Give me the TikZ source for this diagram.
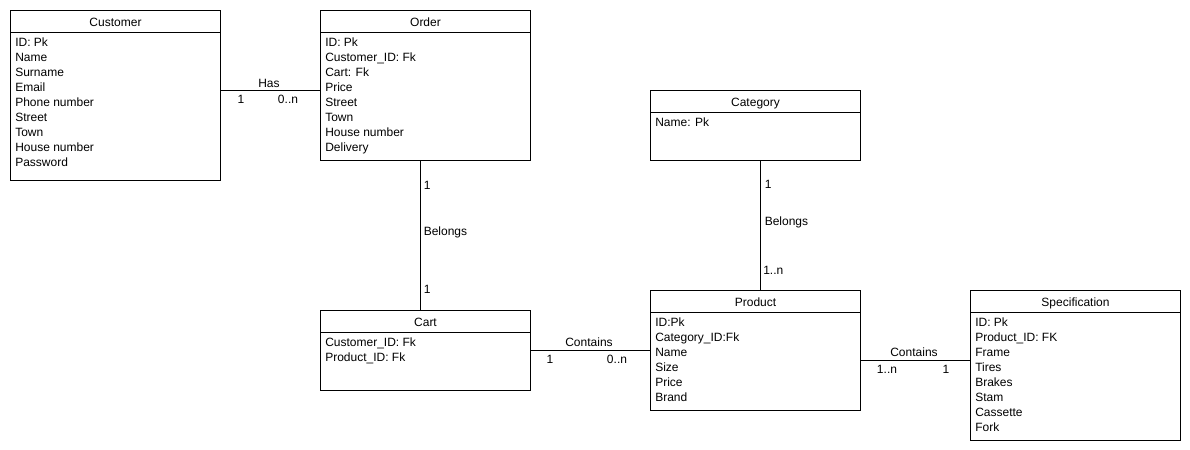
\documentclass[tikz,border=0pt]{standalone}
\usepackage{fontspec}
\setmainfont{Liberation Sans}
\begin{document}
\begin{tikzpicture}[x=0.75pt,y=-0.75pt,
  box/.style={draw, line width=0.75pt, inner sep=0pt, anchor=north west},
  ttl/.style={anchor=base, inner sep=0pt, font=\fontsize{9}{11}\selectfont},
  attr/.style={anchor=base west, inner sep=0pt, font=\fontsize{9}{11}\selectfont},
  lbl/.style={anchor=base, inner sep=0pt, font=\fontsize{9}{11}\selectfont},
  lblw/.style={anchor=base west, inner sep=0pt, font=\fontsize{9}{11}\selectfont},
  link/.style={line width=0.75pt}]
% entity box: name, x, y, width, height, title, attribute list
\newcommand{\erentity}[7]{%
  \node[box, minimum width=#4*0.75pt, minimum height=#5*0.75pt] (#1) at (#2,#3) {};
  \draw[link] ([yshift=-22*0.75pt]#1.north west) -- ([yshift=-22*0.75pt]#1.north east);
  \node[ttl] (#1-title) at ([yshift=-16.7*0.75pt]#1.north) {#6};
  \foreach \t [count=\i] in {#7}
    \node[attr] (#1-a\i) at ([xshift=5*0.75pt, yshift={-(36.7+15*(\i-1))*0.75pt}]#1.north west) {\t};
}
\useasboundingbox (0,0) rectangle (1190,450);

\erentity{customer}{10}{10}{210}{170}{Customer}{ID: Pk,Name,Surname,Email,Phone number,Street,Town,House number,Password}
\erentity{order}{320}{10}{210}{150}{Order}{ID: Pk,Customer\_ID: Fk,Cart: Fk,Price,Street,Town,House number,Delivery}
\erentity{category}{650}{90}{210}{70}{Category}{Name: Pk}
\erentity{cart}{320}{310}{210}{80}{Cart}{Customer\_ID: Fk,Product\_ID: Fk}
\erentity{product}{650}{290}{210}{120}{Product}{ID:Pk,Category\_ID:Fk,Name,Size,Price,Brand}
\erentity{spec}{970}{290}{210}{150}{Specification}{ID: Pk,Product\_ID: FK,Frame,Tires,Brakes,Stam,Cassette,Fork}

% Customer -- Order
\draw[link] (customer.east |- 0,90) -- (order.west |- 0,90);
\node[lbl] (has) at (269,87) {Has};
\node[lbl] (has-1) at (241,103.5) {1};
\node[lbl] (has-n) at (288,103.5) {0..n};

% Order -- Cart
\draw[link] (order.south -| 420,0) -- (cart.north -| 420,0);
\node[lblw] (oc-1) at (423.5,189.5) {1};
\node[lblw] (oc) at (423.5,235.3) {Belongs};
\node[lblw] (oc-2) at (423.5,293.3) {1};

% Cart -- Product
\draw[link] (cart.east |- 0,350) -- (product.west |- 0,350);
\node[lbl] (cp) at (589,346.3) {Contains};
\node[lbl] (cp-1) at (550,363.3) {1};
\node[lbl] (cp-n) at (617,363.3) {0..n};

% Category -- Product
\draw[link] (category.south -| 760,0) -- (product.north -| 760,0);
\node[lblw] (kp-1) at (764.5,188.5) {1};
\node[lblw] (kp) at (764.5,225.3) {Belongs};
\node[lblw] (kp-n) at (763,274.3) {1..n};

% Product -- Specification
\draw[link] (product.east |- 0,360) -- (spec.west |- 0,360);
\node[lbl] (ps) at (914,356) {Contains};
\node[lbl] (ps-n) at (887,373.3) {1..n};
\node[lbl] (ps-1) at (946,373.3) {1};
\end{tikzpicture}
\end{document}
